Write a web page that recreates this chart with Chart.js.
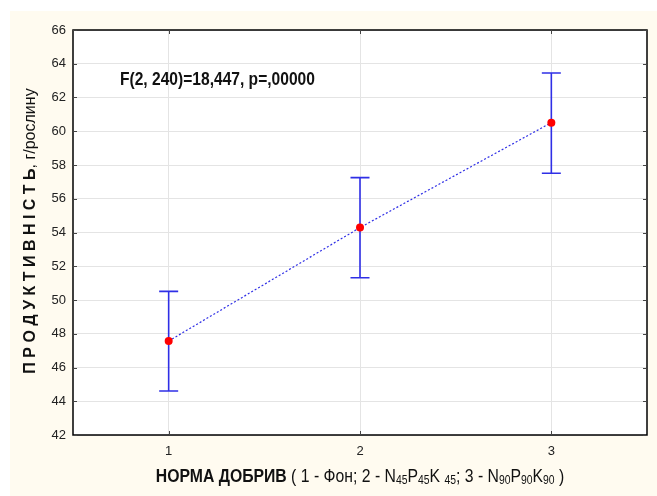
<!DOCTYPE html>
<html>
<head>
<meta charset="utf-8">
<script src="https://cdn.jsdelivr.net/npm/chart.js@4"></script>
<style>
  html, body { margin: 0; padding: 0; background: #fff; }
  #chart { display: block; }
</style>
</head>
<body>
<canvas id="chart" width="657" height="496"></canvas>
<script>
// норма добрив (1 - фон, 2 - N45P45K45, 3 - N90P90K90)
const categories = [1, 2, 3];
const means = [47.57, 54.29, 60.51];
const lower = [44.61, 51.32, 57.51];
const upper = [50.51, 57.25, 63.45];
const yTicks = [42, 44, 46, 48, 50, 52, 54, 56, 58, 60, 62, 64, 66];

const annotationText = 'F(2, 240)=18,447, p=,00000';
const sans = "'Liberation Sans', Arial, sans-serif";

// текст, стиснутий по горизонталі (імітація Arial Narrow)
function drawParts(ctx, parts, cx, cy, squeeze) {
    let total = 0;
    parts.forEach(p => { ctx.font = p[1]; total += ctx.measureText(p[0]).width; });
    ctx.save();
    ctx.translate(cx, cy);
    ctx.scale(squeeze, 1);
    let x = -total / 2;
    parts.forEach(p => {
        ctx.font = p[1];
        ctx.fillText(p[0], x, p[2] || 0);
        x += ctx.measureText(p[0]).width;
    });
    ctx.restore();
}

// фон, рамка, вуса похибок, підписи осей
const decorPlugin = {
    id: 'decor',
    beforeDraw(chart) {
        const { ctx, chartArea: a } = chart;
        ctx.save();
        ctx.fillStyle = '#ffffff';
        ctx.fillRect(0, 0, chart.width, chart.height);
        ctx.fillStyle = '#fffbf0';
        ctx.fillRect(10, 11, chart.width - 10, chart.height - 11);
        ctx.fillStyle = '#ffffff';
        ctx.fillRect(a.left, a.top, a.right - a.left, a.bottom - a.top);
        ctx.restore();
    },
    afterDatasetsDraw(chart) {
        const { ctx } = chart;
        const xs = chart.scales.x, ys = chart.scales.y;
        ctx.save();
        ctx.strokeStyle = '#2f2fe6';
        ctx.lineWidth = 1.6;
        categories.forEach((c, i) => {
            const x = xs.getPixelForValue(c);
            const y1 = ys.getPixelForValue(lower[i]);
            const y2 = ys.getPixelForValue(upper[i]);
            ctx.beginPath();
            ctx.moveTo(x, y1); ctx.lineTo(x, y2);
            ctx.moveTo(x - 9.5, y1); ctx.lineTo(x + 9.5, y1);
            ctx.moveTo(x - 9.5, y2); ctx.lineTo(x + 9.5, y2);
            ctx.stroke();
        });
        // точки поверх вусів
        ctx.fillStyle = '#ff0000';
        categories.forEach((c, i) => {
            ctx.beginPath();
            ctx.arc(xs.getPixelForValue(c), ys.getPixelForValue(means[i]), 4, 0, Math.PI * 2);
            ctx.fill();
        });
        ctx.restore();
    },
    afterDraw(chart) {
        const { ctx, chartArea: a } = chart;
        const xs = chart.scales.x, ys = chart.scales.y;
        ctx.save();
        // рамка і внутрішні риски
        ctx.strokeStyle = '#000';
        ctx.lineWidth = 1.5;
        ctx.strokeRect(a.left, a.top, a.right - a.left, a.bottom - a.top);
        ctx.strokeStyle = '#444';
        ctx.lineWidth = 1;
        ctx.beginPath();
        yTicks.forEach(v => {
            const y = Math.round(ys.getPixelForValue(v)) + 0.5;
            ctx.moveTo(a.left, y); ctx.lineTo(a.left + 4, y);
            ctx.moveTo(a.right, y); ctx.lineTo(a.right - 4, y);
        });
        categories.forEach(c => {
            const x = Math.round(xs.getPixelForValue(c)) + 0.5;
            ctx.moveTo(x, a.bottom); ctx.lineTo(x, a.bottom - 4);
            ctx.moveTo(x, a.top); ctx.lineTo(x, a.top + 4);
        });
        ctx.stroke();

        ctx.fillStyle = '#111';
        ctx.textBaseline = 'middle';
        ctx.textAlign = 'left';
        // статистика
        const big = 'bold 19px ' + sans;
        ctx.font = big;
        const w = ctx.measureText(annotationText).width * 0.82;
        drawParts(ctx, [[annotationText, big]], 120 + w / 2, 80, 0.82);

        // підпис осі X з індексами
        const n = '19px ' + sans, s = '12.5px ' + sans;
        drawParts(ctx, [
            ['НОРМА ДОБРИВ', 'bold 19px ' + sans],
            [' ( 1 - Фон; 2 - N', n],
            ['45', s, 4],
            ['P', n],
            ['45', s, 4],
            ['K ', n],
            ['45', s, 4],
            ['; 3 - N', n],
            ['90', s, 4],
            ['P', n],
            ['90', s, 4],
            ['K', n],
            ['90', s, 4],
            [' )', n]
        ], 360, 477, 0.83);

        // підпис осі Y
        ctx.translate(31, 231);
        ctx.rotate(-Math.PI / 2);
        drawParts(ctx, [
            ['П Р О Д У К Т И В Н І С Т Ь', 'bold 16px ' + sans],
            [', г/рослину', '16px ' + sans]
        ], 0, 0, 1);
        ctx.restore();
    }
};

new Chart(document.getElementById('chart'), {
    type: 'scatter',
    data: {
        datasets: [{
            data: categories.map((c, i) => ({ x: c, y: means[i] })),
            showLine: true,
            borderColor: '#2f2fe6',
            borderWidth: 1.2,
            borderDash: [2, 2],
            pointRadius: 0,
            pointHoverRadius: 0
        }]
    },
    options: {
        responsive: false,
        animation: false,
        devicePixelRatio: 1,
        layout: { padding: { left: 0, top: 30, right: 10, bottom: 0 } },
        plugins: { legend: { display: false }, tooltip: { enabled: false } },
        scales: {
            x: {
                type: 'linear',
                min: 0.5,
                max: 3.5,
                afterBuildTicks: s => { s.ticks = categories.map(v => ({ value: v })); },
                afterFit: s => { s.height = 61; },
                grid: { color: '#e4e4e4', drawTicks: false },
                border: { display: false },
                ticks: { padding: 9, color: '#222', font: { family: sans, size: 13 } }
            },
            y: {
                min: 42,
                max: 66,
                afterBuildTicks: s => { s.ticks = yTicks.map(v => ({ value: v })); },
                afterFit: s => { s.width = 73; },
                grid: { color: '#e4e4e4', drawTicks: false },
                border: { display: false },
                ticks: { padding: 7, color: '#222', font: { family: sans, size: 13 } }
            }
        }
    },
    plugins: [decorPlugin]
});
</script>
</body>
</html>
